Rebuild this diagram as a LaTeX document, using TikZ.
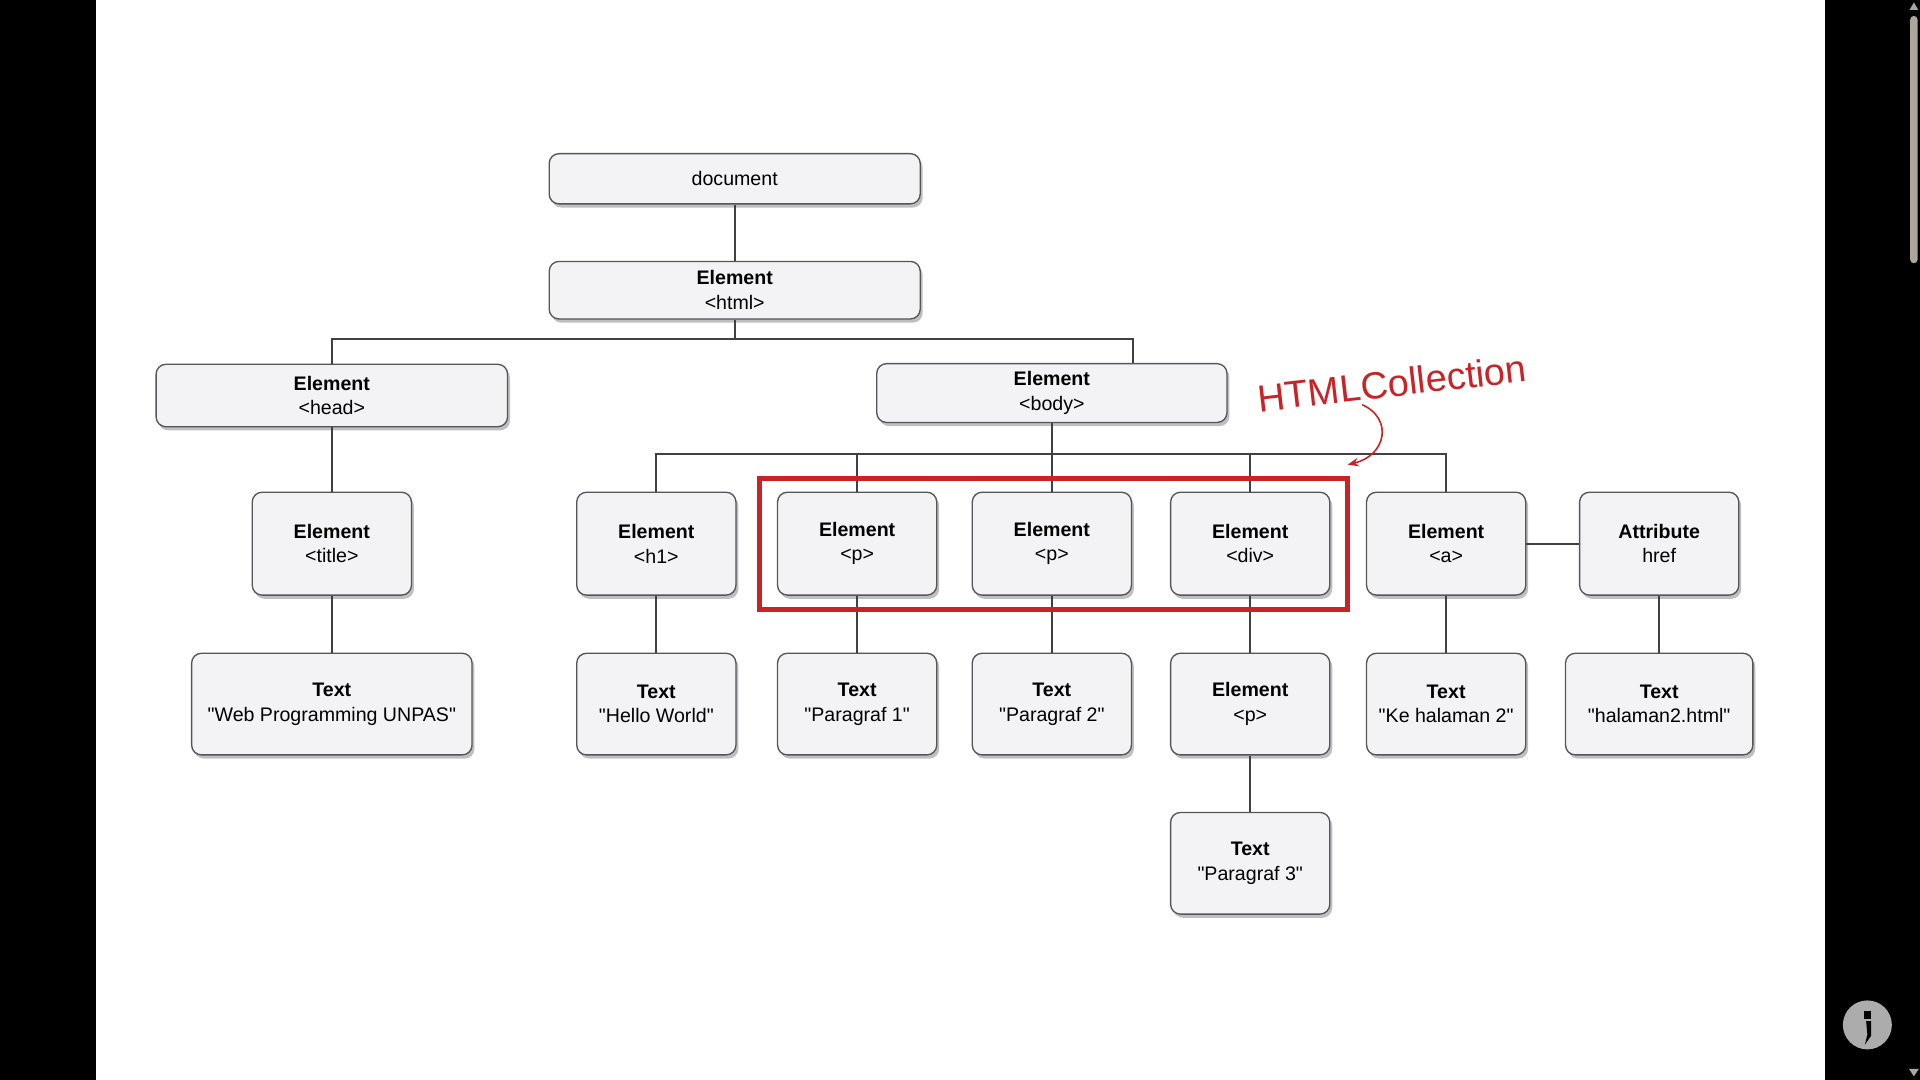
\documentclass[tikz,border=0pt]{standalone}
\usepackage{fontspec}
\setmainfont{Liberation Sans}[Ligatures=TeXOff]
\usetikzlibrary{arrows.meta,shadows,fit}

\definecolor{boxfill}{RGB}{243,243,245}
\definecolor{boxline}{RGB}{85,85,90}
\definecolor{linegray}{RGB}{65,65,65}
\definecolor{collred}{RGB}{200,36,40}
\definecolor{scrollgray}{RGB}{172,166,156}

\tikzset{
	domnode/.style={draw=boxline, fill=boxfill, text=black, shape=rectangle, rounded corners=8pt, line width=1.1pt, align=center, font=\fontsize{16}{20}\selectfont, drop shadow={shadow xshift=2pt, shadow yshift=-3pt, opacity=0.5, fill=gray}},
	elemnode/.style={domnode, minimum width=130pt, minimum height=84pt},
	textnode/.style={domnode, minimum width=130pt, minimum height=83pt},
	link/.style={draw=linegray, line width=1.4pt},
}

\begin{document}
\begin{tikzpicture}[x=1pt,y=-1pt]
	\useasboundingbox (0,0) rectangle (1568,882);
	\fill[black] (0,0) rectangle (1568,882);
	\fill[white] (78,0) rectangle (1490,882);

	% top of the tree
	\node[domnode, minimum width=303pt, minimum height=41pt] (document) at (600,146) {document};
	\node[domnode, minimum width=303pt, minimum height=47pt] (html) at (600,237) {\textbf{Element}\\<html>};
	\node[domnode, minimum width=287pt, minimum height=51pt] (head) at (271,323) {\textbf{Element}\\<head>};
	\node[domnode, minimum width=286pt, minimum height=48pt] (body) at (859,321) {\textbf{Element}\\<body>};

	% elements
	\node[elemnode] (title) at (271,444) {\textbf{Element}\\<title>};
	\node[elemnode] (h1) at (536,444) {\textbf{Element}\\<h1>};
	\node[elemnode] (p1) at (700,444) {\textbf{Element}\\<p>};
	\node[elemnode] (p2) at (859,444) {\textbf{Element}\\<p>};
	\node[elemnode] (div) at (1021,444) {\textbf{Element}\\<div>};
	\node[elemnode] (a) at (1181,444) {\textbf{Element}\\<a>};
	\node[elemnode] (href) at (1355,444) {\textbf{Attribute}\\href};

	% texts
	\node[textnode, minimum width=229pt] (titletext) at (271,575) {\textbf{Text}\\"Web Programming UNPAS"};
	\node[textnode] (h1text) at (536,575) {\textbf{Text}\\"Hello World"};
	\node[textnode] (p1text) at (700,575) {\textbf{Text}\\"Paragraf 1"};
	\node[textnode] (p2text) at (859,575) {\textbf{Text}\\"Paragraf 2"};
	\node[textnode] (divp) at (1021,575) {\textbf{Element}\\<p>};
	\node[textnode] (atext) at (1181,575) {\textbf{Text}\\"Ke halaman 2"};
	\node[textnode, minimum width=153pt] (hreftext) at (1355,575) {\textbf{Text}\\"halaman2.html"};
	\node[textnode] (p3text) at (1021,705) {\textbf{Text}\\"Paragraf 3"};

	\coordinate (htmlbar) at (600,277);
	\coordinate (bodybar) at (859,371);

	\draw[link] (document.south) -- (html.north);
	\draw[link] (html.south) -- (htmlbar);
	\draw[link] (head.north) |- (htmlbar);
	\draw[link] ([xshift=66pt]body.north) |- (htmlbar);
	\draw[link] (body.south) -- (bodybar);
	\foreach \n in {h1,p1,p2,div,a}
		\draw[link] (\n.north) |- (bodybar);
	\draw[link] (head.south) -- (title.north);
	\foreach \n/\m in {title/titletext,h1/h1text,p1/p1text,p2/p2text,div/divp,a/atext,href/hreftext,divp/p3text}
		\draw[link] (\n.south) -- (\m.north);
	\draw[link] (a.east) -- (href.west);

	% HTMLCollection
	\node[draw=collred, line width=4pt, fit=(p1)(p2)(div), inner xsep=14pt, inner ysep=11pt] (coll) {};
	\node[text=collred, rotate=6.5, inner sep=1pt, font=\fontsize{31}{36}\selectfont] (collname) at (1137,313) {HTMLCollection};
	\draw[collred, line width=1.3pt, -{Stealth[length=9pt,width=7pt]}] ([xshift=-26pt,yshift=-5pt]collname.south) .. controls (1138,342) and (1132,372) .. ([xshift=-2pt,yshift=9pt]coll.north east);

	% scroll bar and logo
	\fill[scrollgray, rounded corners=3pt] (1560,13) rectangle (1566,215);
	\fill[scrollgray] (1563,2) -- (1566.5,8) -- (1559.5,8) -- cycle;
	\fill[scrollgray] (1559,873) -- (1567,873) -- (1563,879) -- cycle;
	\fill[gray!65] (1525,837) circle (20);
	\fill[black] (1522,826) rectangle (1528,832);
	\fill[black] (1524,834) -- (1528,834) -- (1528,846) -- (1523,853) -- (1525,845) -- cycle;
\end{tikzpicture}
\end{document}
